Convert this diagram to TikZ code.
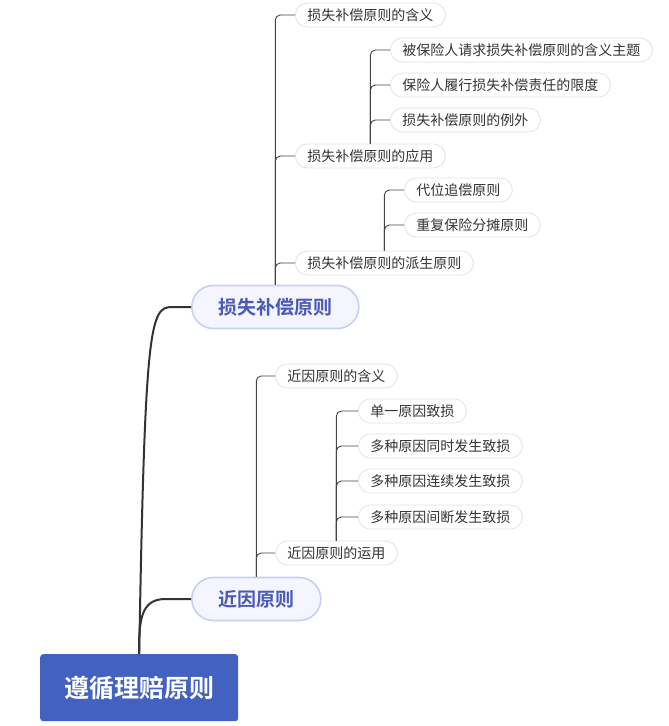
\documentclass[tikz,border=0pt]{standalone}
\usepackage{fontspec}
\newfontfamily\cjk{Noto Sans CJK SC}[BoldFont={Noto Sans CJK SC Bold}]
\definecolor{rootblue}{HTML}{4361BE}
\definecolor{mainfill}{HTML}{F4F5FF}
\definecolor{mainborder}{HTML}{C8CFF5}
\definecolor{maintext}{HTML}{4A5AB6}
\definecolor{pillborder}{HTML}{E2E2E2}
\definecolor{txt}{HTML}{333333}
\definecolor{linec}{HTML}{444444}
\begin{document}
\begin{tikzpicture}[x=1pt,y=-1pt,
  leaf/.style={draw=pillborder, line width=0.8pt, fill=white, rounded corners=12pt,
    minimum height=24pt, inner xsep=12pt, inner ysep=0pt, anchor=west,
    font=\cjk\fontsize{14}{16}\selectfont, text=txt},
  mainnode/.style={draw=mainborder, line width=1.6pt, fill=mainfill, rounded corners=21.5pt,
    minimum height=43pt, inner xsep=26.5pt, inner ysep=0pt, anchor=west,
    font=\cjk\bfseries\fontsize{19}{21}\selectfont, text=maintext},
  rootnode/.style={fill=rootblue, rounded corners=3pt, minimum height=67pt, minimum width=198pt,
    inner sep=0pt, anchor=north west, font=\cjk\bfseries\fontsize{25}{27}\selectfont, text=white},
  sub/.style={draw=linec, line width=0.9pt, rounded corners=5pt},
  trunk/.style={draw=txt, line width=2pt}
]
\useasboundingbox (0,0) rectangle (669,726);

\node[rootnode] (root) at (40,654) {遵循理赔原则};

\node[mainnode] (m1) at (191,307) {损失补偿原则};
\node[mainnode] (m2) at (191,599) {近因原则};

% trunk curves
\coordinate (k1) at (172,307);
\coordinate (k2) at (166,599);
\draw[trunk] (root.north) .. controls (145,325) and (150,307) .. (k1) -- (m1.west);
\draw[trunk] (root.north) .. controls (138,612) and (145,599) .. (k2) -- (m2.west);

\node[leaf] (a1) at (295,15) {损失补偿原则的含义};
\node[leaf] (a2) at (295,156) {损失补偿原则的应用};
\node[leaf] (a3) at (295,263) {损失补偿原则的派生原则};

\node[leaf] (b1) at (390,50) {被保险人请求损失补偿原则的含义主题};
\node[leaf] (b2) at (390,85) {保险人履行损失补偿责任的限度};
\node[leaf] (b3) at (390,120) {损失补偿原则的例外};

\node[leaf] (c1) at (404,190) {代位追偿原则};
\node[leaf] (c2) at (404,225) {重复保险分摊原则};

\node[leaf] (d1) at (275,376) {近因原则的含义};
\node[leaf] (d2) at (275,553) {近因原则的运用};

\node[leaf] (e1) at (358,411) {单一原因致损};
\node[leaf] (e2) at (358,446) {多种原因同时发生致损};
\node[leaf] (e3) at (358,481) {多种原因连续发生致损};
\node[leaf] (e4) at (358,517) {多种原因间断发生致损};

% sub connectors
\foreach \c in {a1,a2,a3} \draw[sub] (m1.north) |- (\c.west);
\foreach \c in {b1,b2,b3} \draw[sub] (a2.north) |- (\c.west);
\foreach \c in {c1,c2} \draw[sub] (a3.north) |- (\c.west);
\foreach \c in {d1,d2} \draw[sub] (m2.north) |- (\c.west);
\foreach \c in {e1,e2,e3,e4} \draw[sub] (d2.north) |- (\c.west);
\end{tikzpicture}
\end{document}
